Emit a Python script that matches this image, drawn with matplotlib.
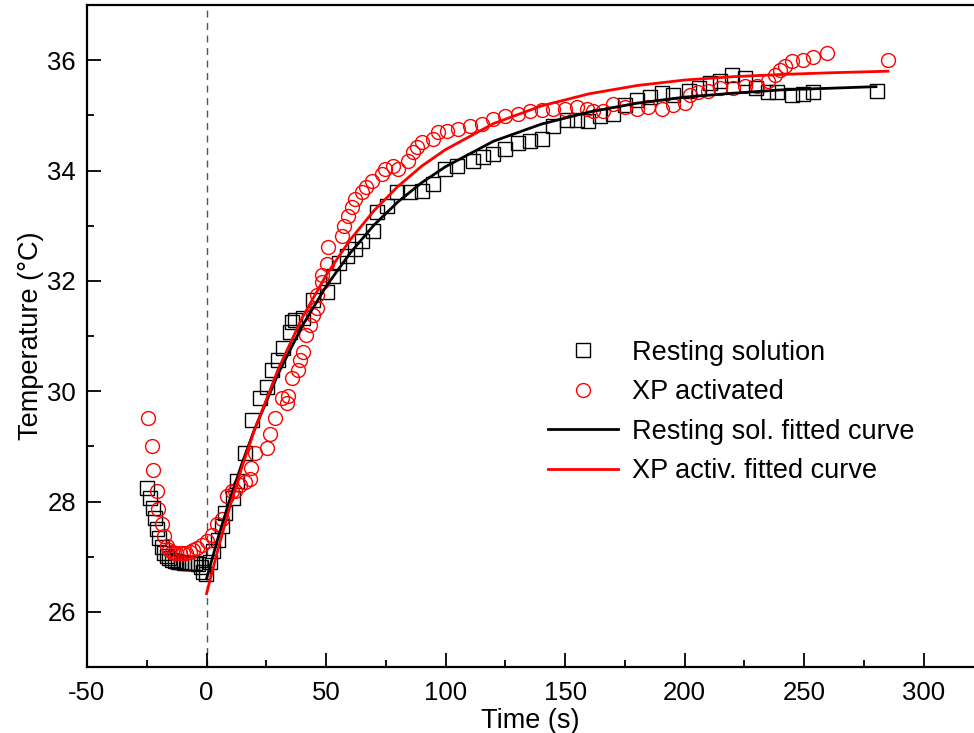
import matplotlib
matplotlib.use("Agg")
import matplotlib.pyplot as plt
from matplotlib.ticker import MultipleLocator

plt.rcParams['font.family'] = ['Liberation Sans', 'DejaVu Sans']
plt.rcParams['axes.unicode_minus'] = False

# Resting solution (black squares)
rest_t = [-24.7, -23.6, -22.6, -21.7, -20.8, -19.8, -18.8, -17.7, -16.6, -15.5, -14.3, -13.1,
          -11.9, -10.7, -9.5, -8.3, -7.1, -5.9, -4.7, -3.5, -2.4, -1.3, -0.3,
          1.3, 2.9, 4.6, 6.3, 7.9, 10.9, 12.6, 15.9, 19.2, 22.2, 25.1, 27.2, 29.7, 31.8,
          34.7, 35.6, 37.2, 40.2, 44.4, 50.2, 52.7, 55.6, 58.9, 61.9, 64.9, 69.5, 71.1,
          75.3, 79.5, 84.9, 90.0, 94.6, 99.6, 104.6, 111.3, 115.5, 119.8, 124.7, 130.1,
          135.1, 140.2, 144.8, 150.6, 154.8, 159.4, 164.4, 169.9, 174.9, 179.9, 185.4,
          190.4, 195.0, 202.0, 206.0, 210.5, 214.6, 219.7, 225.1, 230.0, 234.7, 238.5,
          244.8, 249.4, 253.6, 280.3]
rest_T = [28.24, 28.06, 27.88, 27.70, 27.51, 27.33, 27.17, 27.07, 27.01, 26.97, 26.94, 26.92,
          26.91, 26.90, 26.89, 26.89, 26.88, 26.88, 26.88, 26.87, 26.82, 26.73, 26.68,
          26.90, 27.10, 27.30, 27.55, 27.80, 28.06, 28.37, 28.88, 29.47, 29.87, 30.07, 30.38,
          30.56, 30.78, 31.07, 31.26, 31.29, 31.33, 31.66, 31.80, 32.08, 32.33, 32.45, 32.57,
          32.72, 32.90, 33.24, 33.35, 33.61, 33.61, 33.63, 33.76, 34.03, 34.08, 34.18, 34.25,
          34.30, 34.39, 34.49, 34.54, 34.58, 34.81, 34.91, 34.91, 34.89, 34.98, 35.03, 35.18,
          35.27, 35.34, 35.40, 35.36, 35.45, 35.50, 35.58, 35.62, 35.73, 35.67, 35.49, 35.43,
          35.43, 35.36, 35.38, 35.42, 35.45]

# XP activated (red circles)
xp_t = [-24.3, -23.0, -22.2, -20.9, -20.1, -18.8, -18.0, -16.7, -15.6, -14.6, -13.6, -12.6,
        -11.3, -10.0, -8.6, -7.1, -5.6, -4.2, -2.1, 0.4, 2.1, 4.2, 6.3, 8.4, 10.5, 11.7,
        14.0, 16.0, 18.0, 18.8, 20.1, 25.1, 26.4, 28.5, 31.4, 33.5, 33.9, 35.6, 38.1, 38.9,
        40.2, 41.8, 43.1, 44.4, 46.0, 46.4, 48.1, 48.5, 50.2, 50.6, 56.5, 57.7, 59.0, 60.7,
        61.9, 64.9, 66.9, 69.0, 73.2, 74.5, 77.8, 79.9, 84.1, 86.2, 87.9, 90.0, 94.6, 96.7,
        100.4, 105.0, 110.0, 115.1, 119.7, 124.7, 130.1, 135.1, 140.2, 144.8, 149.8, 154.8,
        159.0, 161.5, 165.7, 169.9, 174.9, 179.9, 184.5, 190.4, 195.0, 200.0, 202.1, 205.4,
        209.6, 214.6, 220.1, 225.1, 230.1, 234.7, 237.7, 239.7, 241.8, 244.8, 249.4, 253.6,
        259.4, 284.9]
xp_T = [29.52, 29.01, 28.57, 28.19, 27.86, 27.59, 27.37, 27.19, 27.12, 27.09, 27.07, 27.06,
        27.06, 27.06, 27.07, 27.09, 27.12, 27.15, 27.22, 27.28, 27.40, 27.59, 27.68, 28.10,
        28.19, 28.19, 28.30, 28.35, 28.41, 28.61, 28.88, 28.97, 29.23, 29.52, 29.87, 29.78,
        29.92, 30.23, 30.38, 30.56, 30.71, 31.02, 31.20, 31.38, 31.51, 31.75, 31.97, 32.11,
        32.30, 32.61, 32.81, 32.99, 33.17, 33.34, 33.48, 33.61, 33.70, 33.81, 33.94, 34.03,
        34.08, 34.03, 34.18, 34.34, 34.43, 34.52, 34.58, 34.70, 34.72, 34.76, 34.80, 34.85,
        34.94, 34.98, 35.03, 35.07, 35.09, 35.12, 35.12, 35.16, 35.12, 35.07, 35.07, 35.20,
        35.16, 35.12, 35.16, 35.12, 35.18, 35.22, 35.36, 35.43, 35.45, 35.49, 35.49, 35.53,
        35.53, 35.62, 35.73, 35.82, 35.89, 35.98, 36.00, 36.05, 36.13, 36.00]

# fitted curves
fit_rest_t = [0, 5, 10, 15, 20, 30, 40, 50, 60, 70, 80, 90, 100, 120, 140, 160, 180, 200,
              220, 240, 260, 280]
fit_rest_T = [26.60, 27.37, 28.07, 28.71, 29.30, 30.32, 31.18, 31.90, 32.50, 33.01, 33.43,
              33.78, 34.07, 34.53, 34.84, 35.06, 35.22, 35.33, 35.40, 35.46, 35.49, 35.52]
fit_xp_t = [0, 5, 10, 15, 20, 30, 40, 50, 60, 70, 80, 90, 100, 120, 140, 160, 180, 200,
            220, 240, 260, 285]
fit_xp_T = [26.33, 27.17, 27.94, 28.65, 29.29, 30.40, 31.33, 32.10, 32.74, 33.27, 33.71,
            34.08, 34.38, 34.85, 35.17, 35.39, 35.54, 35.64, 35.70, 35.74, 35.77, 35.80]

fig = plt.figure(figsize=(9.74, 7.33), dpi=100)
ax = fig.add_axes([87 / 974, 66 / 733, 887 / 974, 662 / 733])

ax.axvline(0, color='#555555', lw=1.0, linestyle=(0, (5, 4)), zorder=1)

ax.plot(rest_t, rest_T, 's', ms=9.5, mfc='none', mec='black', mew=1.0, label='Resting solution', zorder=3)
ax.plot(xp_t, xp_T, 'o', ms=10, mfc='none', mec='red', mew=1.0, label='XP activated', zorder=3)
ax.plot(fit_rest_t, fit_rest_T, '-', color='black', lw=2, label='Resting sol. fitted curve', zorder=4)
ax.plot(fit_xp_t, fit_xp_T, '-', color='red', lw=2, label='XP activ. fitted curve', zorder=4)

ax.set_xlim(-50, 321)
ax.set_ylim(25, 37)
ax.xaxis.set_major_locator(MultipleLocator(50))
ax.xaxis.set_minor_locator(MultipleLocator(25))
ax.yaxis.set_major_locator(MultipleLocator(2))
ax.yaxis.set_minor_locator(MultipleLocator(1))
ax.tick_params(which='major', direction='in', length=10, width=1.3, labelsize=18.5, pad=8)
ax.tick_params(axis='x', which='major', pad=10)
ax.tick_params(which='minor', direction='in', length=5, width=1.3)
ax.tick_params(top=False, right=False, which='both')
for s in ['left', 'bottom', 'top']:
    ax.spines[s].set_linewidth(1.6)
ax.spines['right'].set_visible(False)

ax.set_xlabel('Time (s)', fontsize=19.5, labelpad=2)
ax.set_ylabel('Temperature (°C)', fontsize=19.5, labelpad=2)

ax.legend(loc='upper left', bbox_to_anchor=(0.504, 0.515), frameon=False, fontsize=19.5,
          handlelength=2.6, handletextpad=0.5, labelspacing=0.5, borderpad=0,
          numpoints=1)

fig.savefig('out.png', dpi=100)
plt.close(fig)
